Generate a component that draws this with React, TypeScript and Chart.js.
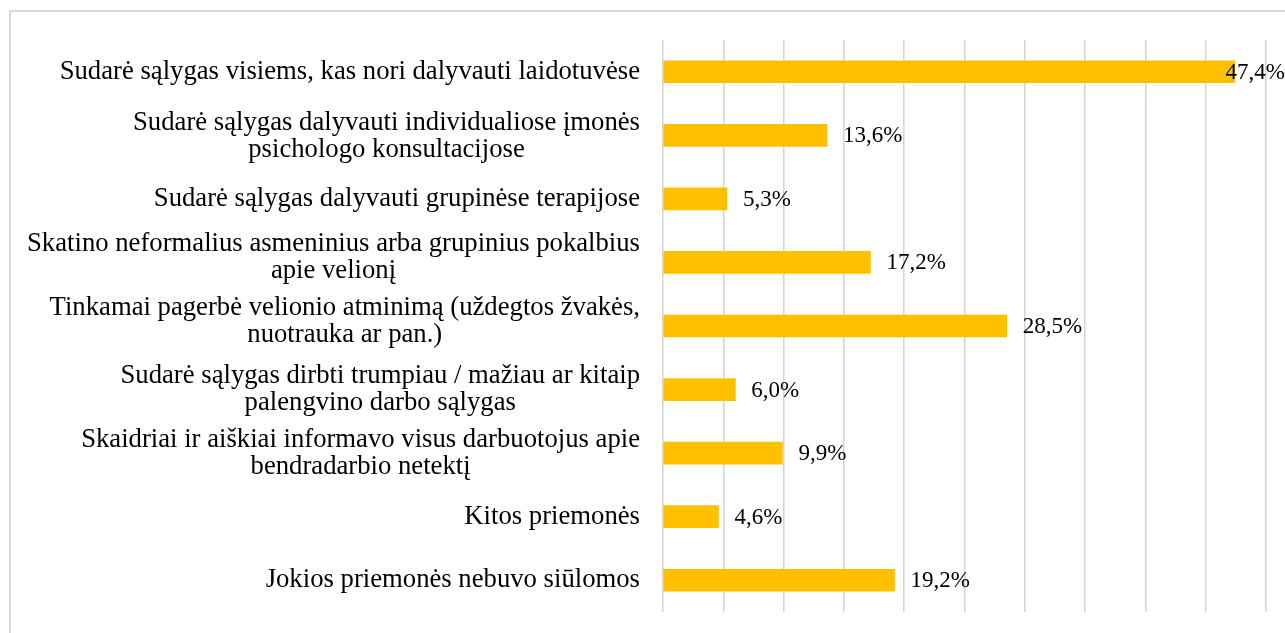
import React, { useEffect, useRef } from "react";
import { Chart, registerables } from "chart.js";

Chart.register(...registerables);

const categories: string[][] = [
  ["Sudarė sąlygas visiems, kas nori dalyvauti laidotuvėse"],
  ["Sudarė sąlygas dalyvauti individualiose įmonės", "psichologo konsultacijose"],
  ["Sudarė sąlygas dalyvauti grupinėse terapijose"],
  ["Skatino neformalius asmeninius arba grupinius pokalbius", "apie velionį"],
  ["Tinkamai pagerbė velionio atminimą (uždegtos žvakės,", "nuotrauka ar pan.)"],
  ["Sudarė sąlygas dirbti trumpiau / mažiau ar kitaip", "palengvino darbo sąlygas"],
  ["Skaidriai ir aiškiai informavo visus darbuotojus apie", "bendradarbio netektį"],
  ["Kitos priemonės"],
  ["Jokios priemonės nebuvo siūlomos"],
];

const values: number[] = [47.4, 13.6, 5.3, 17.2, 28.5, 6.0, 9.9, 4.6, 19.2];

const axisMin = 0;
const axisMax = 50;
const axisStep = 5;

// vertical nudge of some wrapped category labels (layout only)
const labelNudge: number[] = [0, 1, 0, -5, -5, 0, 0, 0, 0];

const FONT = '"Liberation Serif", "Times New Roman", serif';
const CAT_FONT_SIZE = 26.7;
const VAL_FONT_SIZE = 23;
const LINE_HEIGHT = 27;

const fmt = (v: number) => v.toFixed(1).replace(".", ",") + "%";

const borderPlugin = {
  id: "outerBorder",
  beforeDraw(chart: any) {
    const ctx = chart.ctx;
    ctx.save();
    ctx.strokeStyle = "#d9d9d9";
    ctx.lineWidth = 2;
    ctx.beginPath();
    ctx.moveTo(10, chart.height + 5);
    ctx.lineTo(10, 11);
    ctx.lineTo(chart.width + 5, 11);
    ctx.stroke();
    ctx.restore();
  },
};

const categoryLabelPlugin = {
  id: "categoryLabels",
  afterDraw(chart: any) {
    const ctx = chart.ctx;
    const yScale = chart.scales.y;
    const right = chart.chartArea.left - 23;
    ctx.save();
    ctx.font = `${CAT_FONT_SIZE}px ${FONT}`;
    ctx.fillStyle = "#000000";
    ctx.textAlign = "center";
    ctx.textBaseline = "middle";
    categories.forEach((lines, i) => {
      const cy = yScale.getPixelForValue(i) + (labelNudge[i] || 0);
      const maxW = Math.max(...lines.map((l) => ctx.measureText(l).width));
      const cx = right - maxW / 2;
      lines.forEach((line, j) => {
        const y = cy + (j - (lines.length - 1) / 2) * LINE_HEIGHT;
        ctx.fillText(line, cx, y);
      });
    });
    ctx.restore();
  },
};

const valueLabelPlugin = {
  id: "valueLabels",
  afterDatasetsDraw(chart: any) {
    const ctx = chart.ctx;
    const meta = chart.getDatasetMeta(0);
    ctx.save();
    ctx.font = `${VAL_FONT_SIZE}px ${FONT}`;
    ctx.fillStyle = "#000000";
    ctx.textAlign = "left";
    ctx.textBaseline = "middle";
    meta.data.forEach((bar: any, i: number) => {
      const text = fmt(values[i]);
      const w = ctx.measureText(text).width;
      let x = bar.x + 16;
      if (x + w > chart.width) x = chart.width - w;
      ctx.fillText(text, x, bar.y + 1);
    });
    ctx.restore();
  },
};

export default function App() {
  const ref = useRef<HTMLCanvasElement | null>(null);

  useEffect(() => {
    if (!ref.current) return;
    const chart = new Chart(ref.current, {
      type: "bar",
      data: {
        labels: categories,
        datasets: [
          {
            data: values,
            backgroundColor: "#FFC000",
            borderWidth: 0,
            barThickness: 22,
          },
        ],
      },
      options: {
        indexAxis: "y",
        animation: false,
        responsive: false,
        maintainAspectRatio: false,
        layout: { padding: { left: 663, right: 19, top: 40, bottom: 21 } },
        plugins: {
          legend: { display: false },
          tooltip: { enabled: false },
        },
        scales: {
          x: {
            min: axisMin,
            max: axisMax,
            ticks: { stepSize: axisStep, display: false },
            grid: { color: "#d4d4d4", lineWidth: 1.5, drawTicks: false },
            border: { display: false },
          },
          y: {
            display: false,
          },
        },
      },
      plugins: [borderPlugin, categoryLabelPlugin, valueLabelPlugin],
    });
    return () => chart.destroy();
  }, []);

  return (
    <div style={{ position: "absolute", left: 0, top: 0, width: 1285, height: 633, background: "#ffffff" }}>
      <canvas ref={ref} width={1285} height={633} style={{ display: "block" }} />
    </div>
  );
}
